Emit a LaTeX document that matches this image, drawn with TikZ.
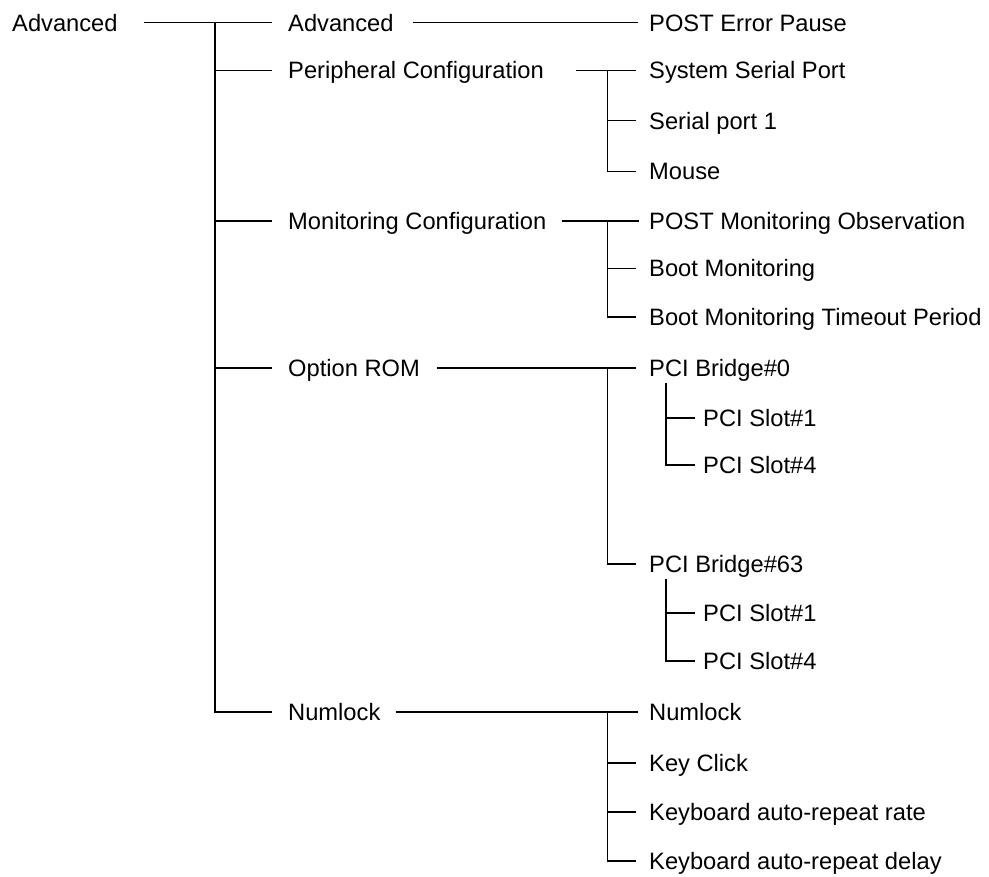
\documentclass[tikz,border=0pt]{standalone}
\usepackage{fontspec}
\setmainfont{Liberation Sans}
\begin{document}
\begin{tikzpicture}[x=1pt,y=-1pt,
  lbl/.style={font=\fontsize{23.7}{28}\selectfont, inner sep=0pt, anchor=west, text height=17pt, text depth=0pt},
  hline/.style={line width=1.5pt},
  vline/.style={line width=1.9pt, line join=miter}]
\useasboundingbox (0,0) rectangle (989,877);
% trunk/vertical x positions
\coordinate (T) at (215,0);
\coordinate (V) at (607.5,0);
\coordinate (W) at (666,0);
% level 0
\node[lbl] (root) at (12,22.7) {Advanced};
% level 1
\node[lbl] (a1) at (288,22.7) {Advanced};
\node[lbl] (a2) at (288,70.3) {Peripheral Configuration};
\node[lbl] (a3) at (288,221) {Monitoring Configuration};
\node[lbl] (a4) at (288,368) {Option ROM};
\node[lbl] (a5) at (288,712) {Numlock};
% level 2
\node[lbl] (b1) at (649,22.7) {POST Error Pause};
\node[lbl] (p1) at (649,70.3) {System Serial Port};
\node[lbl] (p2) at (649,120.7) {Serial port 1};
\node[lbl] (p3) at (649,171.5) {Mouse};
\node[lbl] (m1) at (649,221) {POST Monitoring Observation};
\node[lbl] (m2) at (649,268.5) {Boot Monitoring};
\node[lbl] (m3) at (649,317) {Boot Monitoring Timeout Period};
\node[lbl] (o1) at (649,368) {PCI Bridge\#0};
\node[lbl] (o2) at (649,564) {PCI Bridge\#63};
\node[lbl] (s1) at (703,418) {PCI Slot\#1};
\node[lbl] (s2) at (703,465) {PCI Slot\#4};
\node[lbl] (s3) at (703,613) {PCI Slot\#1};
\node[lbl] (s4) at (703,661) {PCI Slot\#4};
\node[lbl] (n1) at (649,712) {Numlock};
\node[lbl] (n2) at (649,763) {Key Click};
\node[lbl] (n3) at (649,812) {Keyboard auto-repeat rate};
\node[lbl] (n4) at (649,861) {Keyboard auto-repeat delay};
\coordinate (o1b) at ([yshift=-6pt]o1.south);
\coordinate (o2b) at ([yshift=-6pt]o2.south);
% root connectors
\draw[hline] ([xshift=26pt]root.east) -- ([xshift=-16pt]a1.west);
\draw[vline] (T |- a1.west) -- (T |- a5.west) -- ([xshift=-16pt]a5.west);
\foreach \n in {a2,a3,a4} \draw[hline] (T |- \n.west) -- ([xshift=-16pt]\n.west);
% Advanced
\draw[hline] ([xshift=19pt]a1.east) -- ([xshift=-11pt]b1.west);
% Peripheral
\draw[hline] ([xshift=32pt]a2.east) -- ([xshift=-13pt]p1.west);
\draw[vline] (V |- p1.west) -- (V |- p3.west) -- ([xshift=-13pt]p3.west);
\draw[hline] (V |- p2.west) -- ([xshift=-13pt]p2.west);
% Monitoring
\draw[hline] ([xshift=15pt]a3.east) -- ([xshift=-10pt]m1.west);
\draw[vline] (V |- m1.west) -- (V |- m3.west) -- ([xshift=-13pt]m3.west);
\draw[hline] (V |- m2.west) -- ([xshift=-13pt]m2.west);
% Option ROM
\draw[hline] ([xshift=17pt]a4.east) -- ([xshift=-13pt]o1.west);
\draw[vline] (V |- o1.west) -- (V |- o2.west) -- ([xshift=-13pt]o2.west);
\draw[vline] (W |- o1b) -- (W |- s2.west) -- ([xshift=-8pt]s2.west);
\draw[hline] (W |- s1.west) -- ([xshift=-8pt]s1.west);
\draw[vline] (W |- o2b) -- (W |- s4.west) -- ([xshift=-8pt]s4.west);
\draw[hline] (W |- s3.west) -- ([xshift=-8pt]s3.west);
% Numlock
\draw[hline] ([xshift=15pt]a5.east) -- ([xshift=-11pt]n1.west);
\draw[vline] (V |- n1.west) -- (V |- n4.west) -- ([xshift=-13pt]n4.west);
\draw[hline] (V |- n2.west) -- ([xshift=-13pt]n2.west);
\draw[hline] (V |- n3.west) -- ([xshift=-13pt]n3.west);
\end{tikzpicture}
\end{document}
